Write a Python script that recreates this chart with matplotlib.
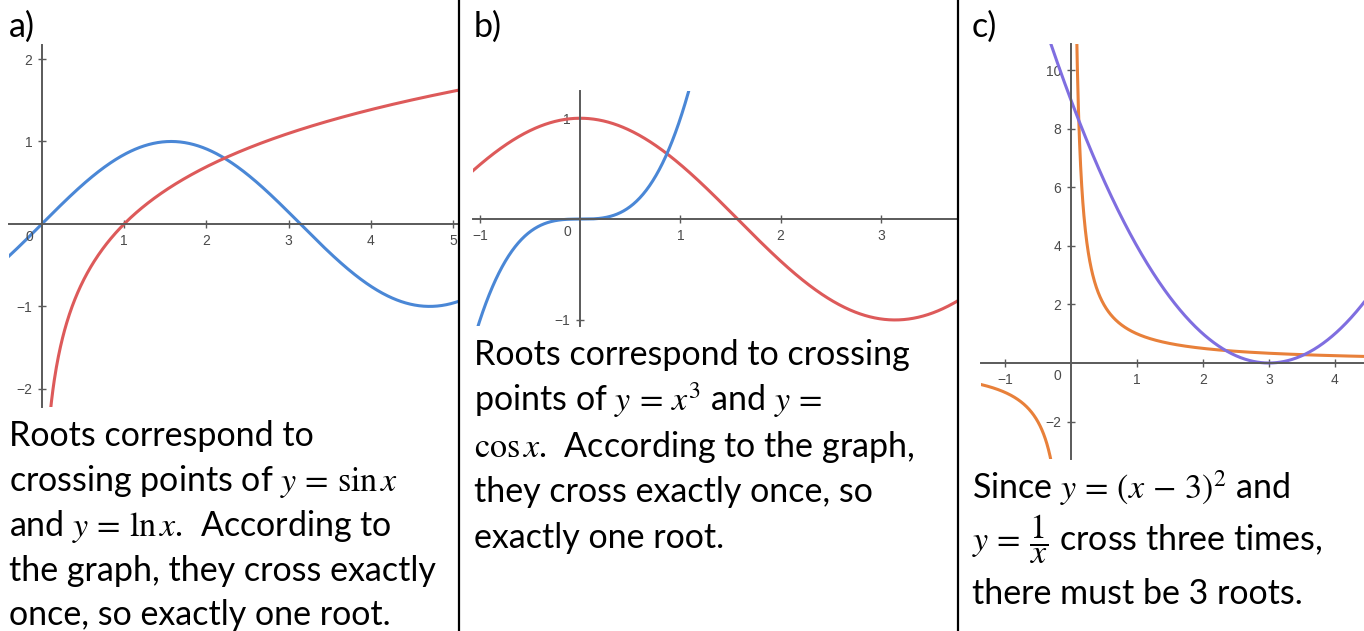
import numpy as np
import matplotlib
matplotlib.use('Agg')
from matplotlib import pyplot as plt
from matplotlib.lines import Line2D

plt.rcParams['font.family'] = ['Lato', 'DejaVu Sans']
plt.rcParams['mathtext.fontset'] = 'stix'

W, H = 1364, 631

# a) y = sin x against y = ln x
a_xlim = (-0.4, 5.07)
a_ylim = (-2.22, 2.17)
a_xticks = [1, 2, 3, 4, 5]
a_yticks = [-2, -1, 1, 2]
a_lines = ['Roots correspond to',
           r'crossing points of $y\,=\,\sin x$',
           r'and $y\,=\,\ln x$.  According to',
           'the graph, they cross exactly',
           'once, so exactly one root.']

# b) y = x^3 against y = cos x
b_xlim = (-1.07, 3.77)
b_ylim = (-1.06, 1.27)
b_xticks = [-1, 1, 2, 3]
b_yticks = [-1, 1]
b_lines = ['Roots correspond to crossing',
           r'points of $y\,=\,x^3$ and $y\,=$',
           r'$\cos x$.  According to the graph,',
           'they cross exactly once, so',
           'exactly one root.']

# c) y = (x-3)^2 against y = 1/x
c_xlim = (-1.36, 4.44)
c_ylim = (-3.28, 10.9)
c_xticks = [-1, 1, 2, 3, 4]
c_yticks = [-2, 2, 4, 6, 8, 10]
c_lines = [r'Since $y\,=\,(x\,-\,3)^2$ and',
           r'$y\,=\,\dfrac{1}{x}$ cross three times,',
           'there must be 3 roots.']

BLUE = '#4a87d6'
RED = '#dd5a5a'
ORANGE = '#e8803a'
PURPLE = '#7f6ee0'
AXIS = '#5a5a5a'
TXT = 24.5

fig = plt.figure(figsize=(W / 100, H / 100), dpi=100)


def px_axes(x0, y0, x1, y1):
    return fig.add_axes([x0 / W, 1 - y1 / H, (x1 - x0) / W, (y1 - y0) / H])


def geo_axes(ax, xlim, ylim, xticks, yticks):
    ax.set_xlim(*xlim)
    ax.set_ylim(*ylim)
    ax.patch.set_alpha(0)
    for s in ['top', 'right']:
        ax.spines[s].set_visible(False)
    for s in ['left', 'bottom']:
        ax.spines[s].set_position(('data', 0))
        ax.spines[s].set_color(AXIS)
        ax.spines[s].set_linewidth(1.4)
    ax.set_xticks(xticks)
    ax.set_yticks(yticks)
    ax.set_xticklabels([str(t).replace('-', '\u2212') for t in xticks])
    ax.set_yticklabels([str(t).replace('-', '\u2212') for t in yticks])
    ax.tick_params(direction='inout', length=6, width=1, color=AXIS,
                   labelsize=10, labelcolor='#4a4a4a', pad=4)
    for lab in ax.get_xticklabels() + ax.get_yticklabels():
        lab.set_family('Liberation Sans')
    ax.annotate('0', xy=(0, 0), xytext=(-13, -13), textcoords='offset pixels',
                ha='center', va='center', fontsize=10, color='#4a4a4a',
                family='Liberation Sans')


def caption(lines, x, baselines, size):
    for txt, yb in zip(lines, baselines):
        fig.text(x / W, 1 - yb / H, txt, fontsize=size, color='black',
                 ha='left', va='baseline')


# panel a
ax = px_axes(9, 45, 459, 407)
geo_axes(ax, a_xlim, a_ylim, a_xticks, a_yticks)
xs = np.linspace(a_xlim[0], a_xlim[1], 600)
ax.plot(xs, np.sin(xs), color=BLUE, lw=2.2)
xp = np.linspace(0.05, a_xlim[1], 600)
ax.plot(xp, np.log(xp), color=RED, lw=2.2)

# panel b
ax = px_axes(473, 91, 958, 326)
geo_axes(ax, b_xlim, b_ylim, b_xticks, b_yticks)
xs = np.linspace(b_xlim[0], b_xlim[1], 600)
ax.plot(xs, np.cos(xs), color=RED, lw=2.2)
ax.plot(xs, xs ** 3, color=BLUE, lw=2.2)

# panel c
ax = px_axes(981, 44, 1364, 459)
geo_axes(ax, c_xlim, c_ylim, c_xticks, c_yticks)
xn = np.linspace(c_xlim[0], -0.01, 400)
xq = np.linspace(0.01, c_xlim[1], 800)
ax.plot(xn, 1 / xn, color=ORANGE, lw=2.2)
ax.plot(xq, 1 / xq, color=ORANGE, lw=2.2)
xs = np.linspace(c_xlim[0], c_xlim[1], 600)
ax.plot(xs, (xs - 3) ** 2, color=PURPLE, lw=2.2)

# panel letters
for lab, x in [('a)', 9), ('b)', 474), ('c)', 972)]:
    fig.text(x / W, 1 - 37 / H, lab, fontsize=TXT, ha='left', va='baseline')

caption(a_lines, 9, [446, 491, 536, 581, 625], TXT)
caption(b_lines, 474, [365, 411, 457, 502, 548], TXT)
caption(c_lines, 972, [499, 551, 604], TXT)

# column separators
for xsep in [459, 958]:
    fig.add_artist(Line2D([xsep / W, xsep / W], [0, 1], color='black',
                          lw=1.6, transform=fig.transFigure))

fig.savefig('out.png', dpi=100)
